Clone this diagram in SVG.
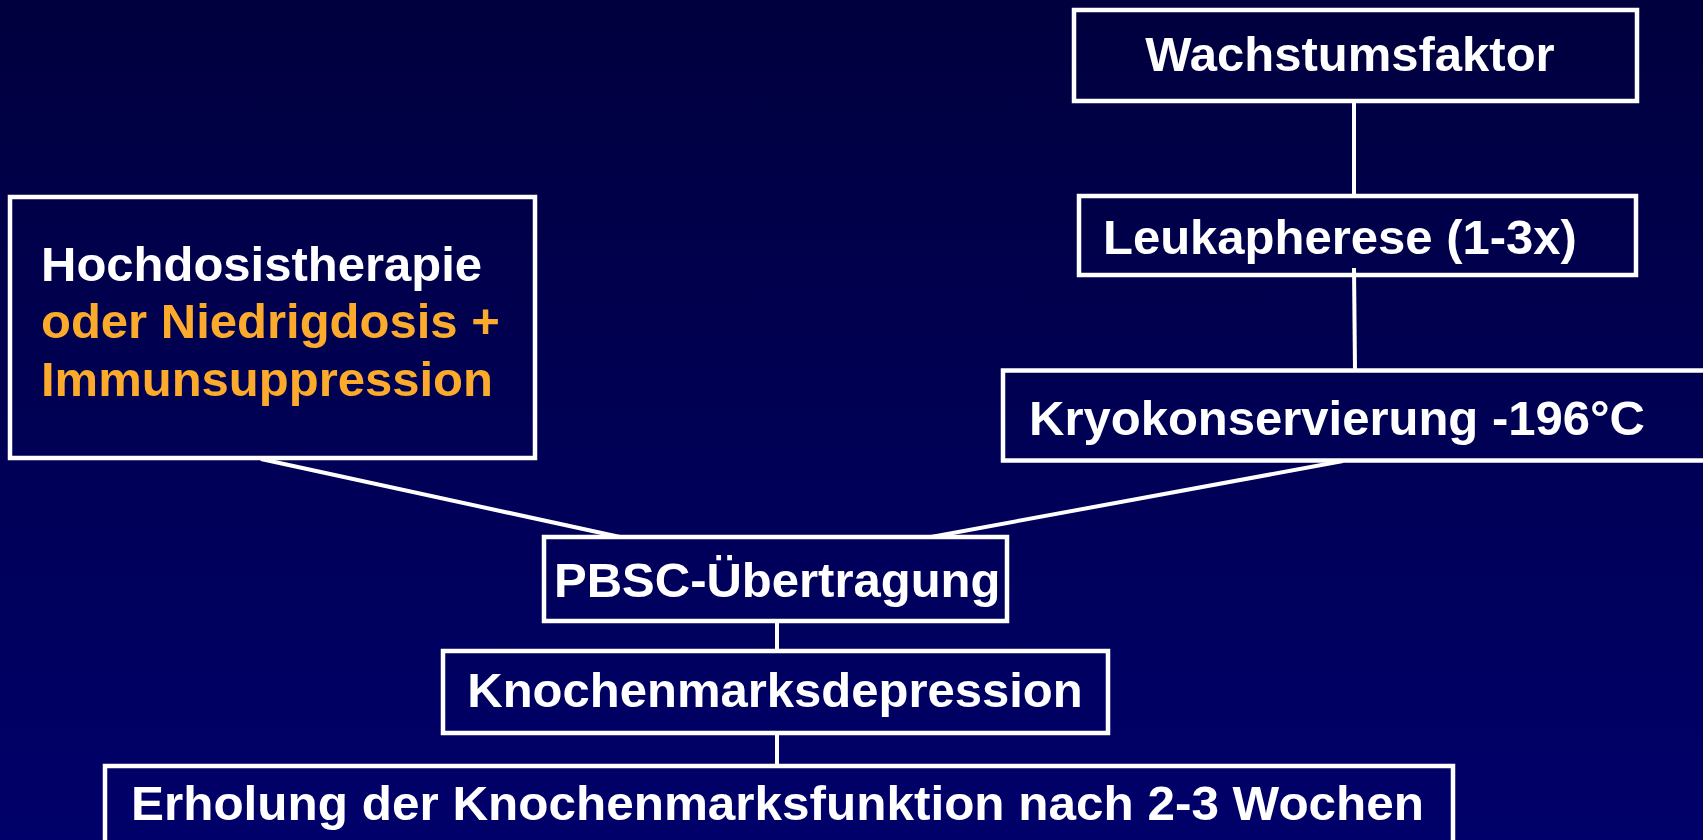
<svg xmlns="http://www.w3.org/2000/svg" width="1703" height="840" viewBox="0 0 1703 840">
<defs>
<linearGradient id="bg" x1="0" y1="0" x2="0" y2="1">
<stop offset="0" stop-color="#00003E"/>
<stop offset="1" stop-color="#00006A"/>
</linearGradient>
<style>
.box{fill:none;stroke:#FFFFFF;stroke-width:4.5}
.con{stroke:#FFFFFF;stroke-width:4;fill:none}
.t{font-family:"Liberation Sans",Arial,sans-serif;font-weight:bold;font-size:49px;fill:#FFFFFF}
.o{fill:#FBAA2C}
</style>
</defs>
<rect x="0" y="0" width="1703" height="840" fill="url(#bg)"/>
<g id="connectors">
<line class="con" x1="1354" y1="102" x2="1354" y2="194"/>
<line class="con" x1="1354" y1="268" x2="1355" y2="370"/>
<line class="con" x1="261" y1="459" x2="620" y2="537"/>
<line class="con" x1="1343" y1="461" x2="931" y2="537"/>
<line class="con" x1="777" y1="622" x2="777" y2="650"/>
<line class="con" x1="777" y1="734" x2="777" y2="765"/>
</g>
<g id="hochdosis">
<rect class="box" x="10" y="197" width="525" height="261"/>
<text class="t" x="41" y="281">Hochdosistherapie</text>
<text class="t o" x="41" y="338">oder Niedrigdosis +</text>
<text class="t o" x="41" y="396">Immunsuppression</text>
</g>
<g id="wachstumsfaktor">
<rect class="box" x="1074" y="10" width="563" height="91"/>
<text class="t" x="1350" y="71" text-anchor="middle">Wachstumsfaktor</text>
</g>
<g id="leukapherese">
<rect class="box" x="1079" y="196" width="557" height="79"/>
<text class="t" x="1103" y="254">Leukapherese (1-3x)</text>
</g>
<g id="kryo">
<rect class="box" x="1003" y="370.5" width="760" height="90"/>
<text class="t" x="1029" y="435">Kryokonservierung -196°C</text>
</g>
<g id="pbsc">
<rect class="box" x="544" y="537" width="463" height="84"/>
<text class="t" x="554" y="597">PBSC-Übertragung</text>
</g>
<g id="knochenmarksdepression">
<rect class="box" x="443" y="651" width="665" height="82"/>
<text class="t" x="775" y="707" text-anchor="middle">Knochenmarksdepression</text>
</g>
<g id="erholung">
<rect class="box" x="105" y="766" width="1348" height="100"/>
<text class="t" x="131" y="820" textLength="1293" lengthAdjust="spacingAndGlyphs">Erholung der Knochenmarksfunktion nach 2-3 Wochen</text>
</g>
</svg>
